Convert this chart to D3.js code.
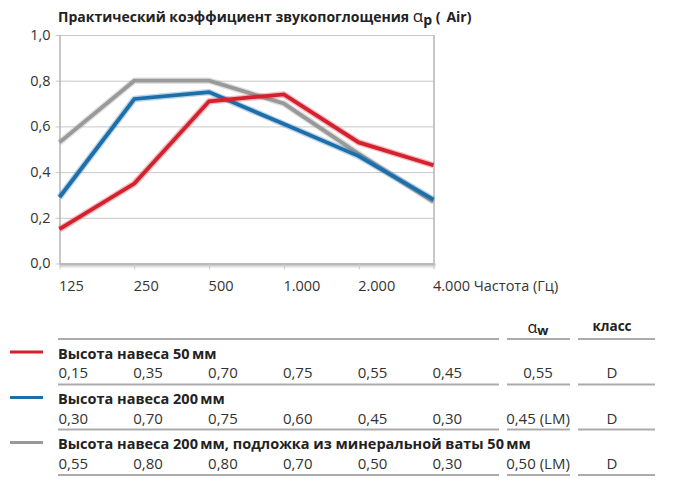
<!DOCTYPE html>
<html><head><meta charset="utf-8">
<script src="https://cdn.jsdelivr.net/npm/d3@7"></script>
<style>
html,body{margin:0;padding:0;background:#fff;}
svg{display:block;font-family:"Open Sans","Noto Sans",sans-serif;}
</style></head>
<body>
<svg id="c" width="673" height="493"></svg>
<script>
// ---- data ----
const freqLabels = ["125","250","500","1.000","2.000","4.000"];
const yTicks = [0,0.2,0.4,0.6,0.8,1.0];
const seriesNames = [
  "Высота навеса 50\u2009мм",
  "Высота навеса 200\u2009мм",
  "Высота навеса 200\u2009мм, подложка из минеральной ваты 50\u2009мм"
];
const redValues  = [0.15,0.35,0.71,0.74,0.53,0.43];
const blueValues = [0.29,0.72,0.75,0.61,0.47,0.28];
const grayValues = [0.53,0.80,0.80,0.70,0.48,0.27];
const redTable  = ["0,15","0,35","0,70","0,75","0,55","0,45"];
const blueTable = ["0,30","0,70","0,75","0,60","0,45","0,30"];
const grayTable = ["0,55","0,80","0,80","0,70","0,50","0,30"];
const alphaW = ["0,55","0,45 (LM)","0,50 (LM)"];
const classes = ["D","D","D"];
const colors = ["#d5202e","#1d6fab","#999999"];

const svg = d3.select("#c");
const X0 = 59.5, X1 = 433.5, Y0 = 35, Y1 = 263.5;
const x = d3.scalePoint().domain(freqLabels).range([X0, X1]);
const y = d3.scaleLinear().domain([0,1]).range([Y1, Y0]);
const fmt = d => d3.format(".1f")(d).replace(".", ",");
const FF = "'Open Sans','Noto Sans',sans-serif";

// title
const title = svg.append("text").attr("x",58).attr("y",22)
  .attr("font-size",14).attr("font-weight","bold").attr("fill","#222");
title.append("tspan").text("Практический коэффициент звукопоглощения ");
title.append("tspan").attr("font-weight","normal").attr("font-size",17).text("α");
title.append("tspan").attr("dy",3).text("p");
title.append("tspan").attr("dy",-3).text(" (\u2009 Air)");

// bottom axis shadow
const defs = svg.append("defs");
const g1 = defs.append("linearGradient").attr("id","sh").attr("x1",0).attr("y1",0).attr("x2",0).attr("y2",1);
g1.append("stop").attr("offset","0%").attr("stop-color","#888").attr("stop-opacity",0.7);
g1.append("stop").attr("offset","100%").attr("stop-color","#888").attr("stop-opacity",0);
svg.append("rect").attr("x",X0).attr("y",Y1).attr("width",X1-X0+2).attr("height",5).attr("fill","url(#sh)");

// y axis + horizontal grid
const yAxis = svg.append("g").attr("transform",`translate(${X0},0)`)
  .call(d3.axisLeft(y).tickValues(yTicks).tickFormat(fmt).tickSize(-(X1-X0)).tickPadding(9));
yAxis.select(".domain").remove();
yAxis.selectAll(".tick line").attr("stroke","#c9c9c9").attr("x1",-4);
yAxis.selectAll(".tick text").attr("font-size",14.5).attr("fill","#333")
  .attr("font-family",FF).attr("dy","0.3em");

// x axis + vertical grid
const xAxis = svg.append("g").attr("transform",`translate(0,${Y1})`)
  .call(d3.axisBottom(x).tickSize(-(Y1-Y0)).tickPadding(0));
xAxis.select(".domain").attr("stroke","#b5b5b5").attr("stroke-width",1.5);
xAxis.selectAll(".tick line").attr("stroke","#c9c9c9").attr("y2",6);
xAxis.selectAll(".tick text").attr("font-size",14.5).attr("fill","#333")
  .attr("font-family",FF)
  .attr("text-anchor","start").attr("x",-1).attr("y",27).attr("dy",0);
xAxis.selectAll(".tick").filter(d => d === "4.000").select("text")
  .append("tspan").text(" Частота (Гц)");

// lines
const line = d3.line().x((d,i) => x(freqLabels[i])).y(d => y(d));
const plotSeries = [grayValues, blueValues, redValues];
const plotColors = [colors[2], colors[1], colors[0]];
plotSeries.forEach((vals, k) => {
  svg.append("path").datum(vals).attr("d", line).attr("fill","none")
    .attr("stroke", plotColors[k]).attr("stroke-opacity",0.3).attr("stroke-width",6.5)
    .attr("stroke-linejoin","round");
  svg.append("path").datum(vals).attr("d", line).attr("fill","none")
    .attr("stroke", plotColors[k]).attr("stroke-width",3.8).attr("stroke-linejoin","miter");
});

// table
const tableRows = [redTable, blueTable, grayTable];
const sepY = [339, 384.5, 429.5, 475];
const segs = [[58,499],[507,570],[578,655]];
sepY.forEach(sy => segs.forEach(s => {
  svg.append("line").attr("x1",s[0]).attr("x2",s[1]).attr("y1",sy).attr("y2",sy)
    .attr("stroke","#ababab").attr("stroke-width",2);
}));
// header
const hA = svg.append("text").attr("x",538).attr("y",333).attr("text-anchor","middle").attr("fill","#222");
hA.append("tspan").attr("font-size",16).text("α");
hA.append("tspan").attr("font-size",13).attr("font-weight","bold").attr("dy",2).text("w");
svg.append("text").attr("x",612).attr("y",331).attr("text-anchor","middle")
  .attr("font-size",13.5).attr("font-weight","bold").attr("fill","#222").text("класс");

tableRows.forEach((row, r) => {
  const base = sepY[r];
  svg.append("line").attr("x1",10).attr("x2",43).attr("y1",base+13).attr("y2",base+13)
    .attr("stroke",colors[r]).attr("stroke-width",3);
  svg.append("text").attr("x",58).attr("y",base+19.5).attr("font-size",14.5)
    .attr("font-weight","bold").attr("fill","#222").text(seriesNames[r]);
  row.forEach((v,i) => {
    svg.append("text").attr("x",x(freqLabels[i])-1).attr("y",base+39).attr("font-size",15)
      .attr("fill","#333").text(v);
  });
  svg.append("text").attr("x",538).attr("y",base+39).attr("font-size",15)
    .attr("text-anchor","middle").attr("fill","#333").text(alphaW[r]);
  svg.append("text").attr("x",612).attr("y",base+39).attr("font-size",15)
    .attr("text-anchor","middle").attr("fill","#333").text(classes[r]);
});
</script>
</body></html>
